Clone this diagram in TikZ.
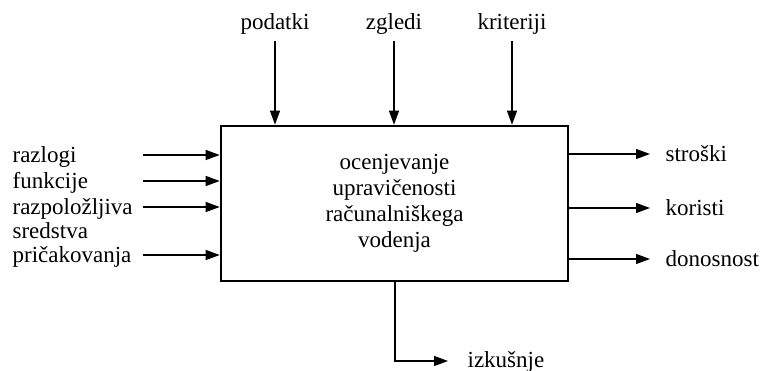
\documentclass[tikz,border=0pt]{standalone}
\usepackage{fontspec}
\setmainfont{Liberation Serif}
\usetikzlibrary{arrows.meta}

\begin{document}
\begin{tikzpicture}[x=1pt,y=-1pt,>={Triangle[length=14pt,width=10pt]},line width=1.2pt,
  every node/.style={font=\fontsize{23}{26}\selectfont,inner sep=0pt}]
\useasboundingbox (0,0) rectangle (760,371);
% 1. glavni blok
\node[draw,line width=2.6pt,minimum width=347pt,minimum height=155pt,align=center] (blok) at (394.5,203.5)
  {ocenjevanje\\upravičenosti\\računalniškega\\vodenja};

% 2. vhodi (levo)
\node[anchor=base west] (razlogi) at (12,163) {razlogi};
\node[anchor=base west] (funkcije) at (12,189) {funkcije};
\node[anchor=base west,align=left,font=\fontsize{23}{24}\selectfont] (sredstva) at (12,239) {razpoložljiva\\sredstva};
\node[anchor=base west] (pricakovanja) at (12,263) {pričakovanja};
\foreach \y in {155,181,207,255}
  \draw[->] (143,\y) -- (blok.west |- 143,\y);

% 3. vodila (zgoraj)
\foreach \n/\x in {podatki/275,zgledi/394,kriteriji/512}{
  \node[anchor=base] (\n) at (\x,30) {\n};
  \draw[->] (\x,41) -- (\n |- blok.north);
}

% 4. izhodi (desno)
\foreach \n/\t/\y in {stroski/stroški/154,koristi/koristi/208,donosnost/donosnost/259}{
  \node[anchor=base west] (\n) at (665,\y+8) {\t};
  \draw[->] (blok.east |- 0,\y) -- (650,\y);
}

% 5. mehanizem (spodaj)
\node[anchor=base west] (izkusnje) at (467,367) {izkušnje};
\coordinate (koleno) at (395,361);
\draw[->] (blok.south -| koleno) -- (koleno) -- (448,361);
\end{tikzpicture}
\end{document}
